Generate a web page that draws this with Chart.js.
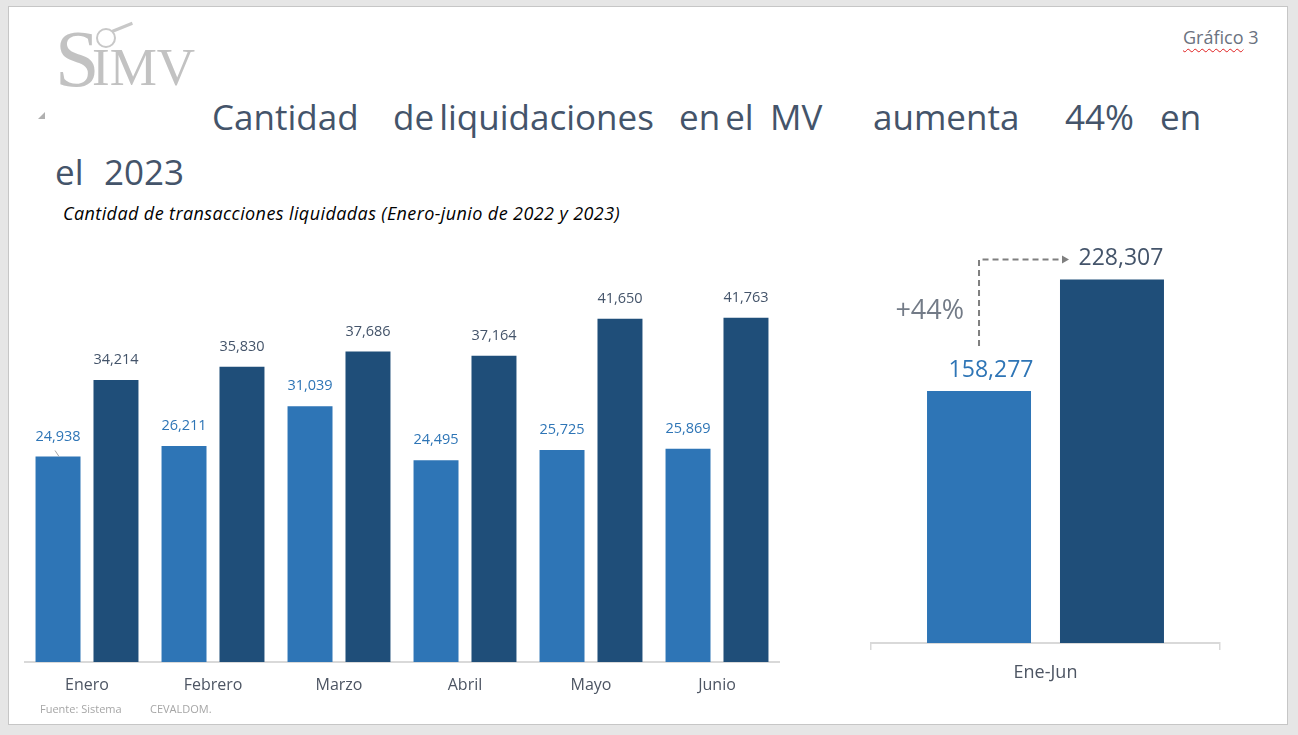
<!DOCTYPE html>
<html lang="es">
<head>
<meta charset="utf-8">
<title>Gráfico 3 - Cantidad de liquidaciones</title>
<script src="https://cdn.jsdelivr.net/npm/chart.js@4.4.1/dist/chart.umd.min.js"></script>
<style>
  html, body { margin: 0; padding: 0; }
  body {
    width: 1298px; height: 735px; position: relative; overflow: hidden;
    background: #e6e6e6; font-family: 'Open Sans', 'Noto Sans', sans-serif;
  }
  .slide {
    position: absolute; left: 8px; top: 6px; width: 1280px; height: 719px;
    background: #fff; border: 1px solid #c6c6c6; box-sizing: border-box;
  }
  .abs { position: absolute; white-space: nowrap; }
  .titulo { font-size: 35px; line-height: 35px; color: #44546a; }
  .l1 { top: 99px; }
  .l2 { top: 154px; }
  .logo { font-family: 'Liberation Serif', 'DejaVu Serif', serif; color: #c2c2c2; line-height: 1; }
  .subtitulo { left: 63px; top: 201px; font-size: 18px; letter-spacing: 0.4px; line-height: 24px; font-style: italic; color: #000; }
  .fuente { top: 701px; font-size: 11px; line-height: 16px; color: #a6a6a6; }
  .grafico { left: 1183px; top: 26px; font-size: 18px; line-height: 22px; color: #6b7280; }
  .grafico span { text-decoration: underline wavy #e02020; text-decoration-thickness: 1px; text-underline-offset: 4px; }
  .caja { position: absolute; }
</style>
</head>
<body>
<div class="slide"></div>

<!-- logo -->
<div class="abs logo" style="left:55px; top:19px; font-size:80px;">S</div>
<div class="abs logo" style="left:92px; top:41px; font-size:53px;">IMV</div>
<div class="abs" style="left:96px; top:28px; width:16px; height:16px; border:2px solid #c8c8c8; border-radius:50%;"></div>
<div class="abs" style="left:112px; top:30px; width:22px; height:3px; background:#c8c8c8; transform:rotate(-22deg); transform-origin:left center;"></div>

<div class="abs grafico"><span>Gráfico</span> 3</div>

<div class="abs" style="left:38px; top:112px; width:0; height:0; border-left:7px solid transparent; border-bottom:7px solid #b0b0b0;"></div>

<!-- titulo -->
<div class="abs titulo l1" style="left:212px;">Cantidad</div>
<div class="abs titulo l1" style="left:393px; word-spacing:-4px;">de liquidaciones</div>
<div class="abs titulo l1" style="left:679px; word-spacing:-4px;">en el</div>
<div class="abs titulo l1" style="left:770px;">MV</div>
<div class="abs titulo l1" style="left:873px;">aumenta</div>
<div class="abs titulo l1" style="left:1065px;">44%</div>
<div class="abs titulo l1" style="left:1160px;">en</div>
<div class="abs titulo l2" style="left:55px;">el</div>
<div class="abs titulo l2" style="left:104px;">2023</div>

<div class="abs subtitulo">Cantidad de transacciones liquidadas (Enero-junio de 2022 y 2023)</div>

<div class="caja" style="left:24px; top:250px; width:756px; height:462px;"><canvas id="chart-meses"></canvas></div>
<div class="caja" style="left:869px; top:245px; width:353px; height:445px;"><canvas id="chart-total"></canvas></div>

<div class="abs fuente" style="left:40px;">Fuente: Sistema</div>
<div class="abs fuente" style="left:150px;">CEVALDOM.</div>

<script>
'use strict';

// Datos
const meses = ['Enero', 'Febrero', 'Marzo', 'Abril', 'Mayo', 'Junio'];
const liq2022 = [24938, 26211, 31039, 24495, 25725, 25869];
const liq2023 = [34214, 35830, 37686, 37164, 41650, 41763];
const periodo = ['Ene-Jun'];
const total2022 = [158277];
const total2023 = [228307];

const AZUL_2022 = '#2e75b6';
const AZUL_2023 = '#1f4e79';
const GRIS_TEXTO = '#44546a';
const FUENTE = "'Open Sans', 'Noto Sans', sans-serif";

function formatearNumero(v) {
  return Number(v).toLocaleString('en-US');
}

// etiquetas encima de cada barra
const etiquetasValor = {
  id: 'etiquetasValor',
  afterDatasetsDraw: function (chart, args, opts) {
    const ctx = chart.ctx;
    ctx.save();
    ctx.font = opts.font;
    ctx.textAlign = 'center';
    ctx.textBaseline = 'middle';
    chart.data.datasets.forEach(function (ds, i) {
      const meta = chart.getDatasetMeta(i);
      const dx = opts.dx ? opts.dx[i] : 0;
      meta.data.forEach(function (bar, j) {
        ctx.fillStyle = opts.colores[i];
        ctx.fillText(formatearNumero(ds.data[j]), bar.x + dx, bar.y - opts.offset);
        // linea guia (solo Enero 2022)
        if (opts.guia && opts.guia[0] === i && opts.guia[1] === j) {
          ctx.strokeStyle = '#a6a6a6';
          ctx.lineWidth = 1;
          ctx.beginPath();
          ctx.moveTo(bar.x - 3, bar.y - 6);
          ctx.lineTo(bar.x + 1, bar.y);
          ctx.stroke();
        }
      });
    });
    ctx.restore();
  }
};

// flecha de crecimiento en el total
const flechaCrecimiento = {
  id: 'flechaCrecimiento',
  afterDatasetsDraw: function (chart) {
    const b0 = chart.getDatasetMeta(0).data[0];
    const b1 = chart.getDatasetMeta(1).data[0];
    if (!b0 || !b1) return;
    const ctx = chart.ctx;
    const x0 = b0.x;
    const yIni = b0.y - 45;
    const yFin = b1.y - 20;
    const xFin = b1.x - 43;
    ctx.save();
    ctx.strokeStyle = '#7f7f7f';
    ctx.lineWidth = 2;
    ctx.setLineDash([6, 4]);
    ctx.beginPath();
    ctx.moveTo(x0, yIni);
    ctx.lineTo(x0, yFin);
    ctx.lineTo(xFin - 6, yFin);
    ctx.stroke();
    ctx.setLineDash([]);
    ctx.fillStyle = '#7f7f7f';
    ctx.beginPath();
    ctx.moveTo(xFin, yFin);
    ctx.lineTo(xFin - 7, yFin - 4);
    ctx.lineTo(xFin - 7, yFin + 4);
    ctx.closePath();
    ctx.fill();

    const pct = Math.round((total2023[0] / total2022[0] - 1) * 100);
    ctx.font = '27px ' + FUENTE;
    ctx.fillStyle = '#737b87';
    ctx.textAlign = 'right';
    ctx.textBaseline = 'middle';
    ctx.fillText('+' + pct + '%', x0 - 15, (yIni + yFin) / 2 + 9);
    ctx.restore();
  }
};

Chart.defaults.font.family = FUENTE;
Chart.defaults.animation = false;

new Chart(document.getElementById('chart-meses').getContext('2d'), {
  type: 'bar',
  data: {
    labels: meses,
    datasets: [
      { label: '2022', data: liq2022, backgroundColor: AZUL_2022, categoryPercentage: 0.92, barPercentage: 0.776 },
      { label: '2023', data: liq2023, backgroundColor: AZUL_2023, categoryPercentage: 0.92, barPercentage: 0.776 }
    ]
  },
  options: {
    responsive: true,
    maintainAspectRatio: false,
    layout: { padding: 0 },
    scales: {
      x: {
        grid: { display: true, drawOnChartArea: false, drawTicks: false },
        border: { display: true, color: '#d9d9d9', width: 2 },
        ticks: { color: '#4d5563', font: { size: 16 }, padding: 14 },
        afterFit: function (scale) { scale.height = 50; }
      },
      y: { display: false, min: 0, max: 50000 }
    },
    plugins: {
      legend: { display: false },
      tooltip: { enabled: false },
      etiquetasValor: {
        font: '14.5px ' + FUENTE,
        colores: [AZUL_2022, GRIS_TEXTO],
        offset: 20,
        guia: [0, 0]
      }
    }
  },
  plugins: [etiquetasValor]
});

new Chart(document.getElementById('chart-total').getContext('2d'), {
  type: 'bar',
  data: {
    labels: periodo,
    datasets: [
      { label: '2022', data: total2022, backgroundColor: AZUL_2022, categoryPercentage: 0.762, barPercentage: 0.782 },
      { label: '2023', data: total2023, backgroundColor: AZUL_2023, categoryPercentage: 0.762, barPercentage: 0.782 }
    ]
  },
  options: {
    responsive: true,
    maintainAspectRatio: false,
    layout: { padding: { left: 2, right: 2 } },
    scales: {
      x: {
        grid: { display: true, offset: true, drawOnChartArea: false, drawTicks: true, tickLength: 7, color: '#d9d9d9', lineWidth: 1.5 },
        border: { display: true, color: '#d9d9d9', width: 2 },
        ticks: { color: '#4d5563', font: { size: 18 }, padding: 12 },
        afterFit: function (scale) { scale.height = 47; }
      },
      y: { display: false, min: 0, max: 250000 }
    },
    plugins: {
      legend: { display: false },
      tooltip: { enabled: false },
      etiquetasValor: {
        font: '23px ' + FUENTE,
        colores: [AZUL_2022, GRIS_TEXTO],
        offset: 21,
        dx: [12, 9]
      }
    }
  },
  plugins: [etiquetasValor, flechaCrecimiento]
});
</script>
</body>
</html>
